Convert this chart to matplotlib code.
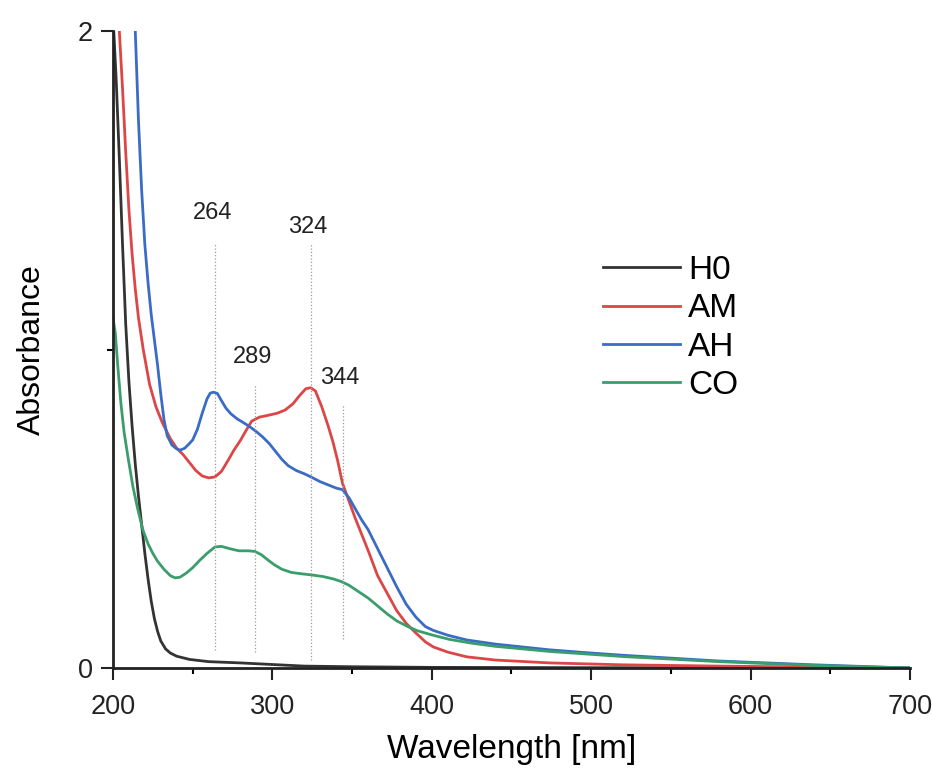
import matplotlib.pyplot as plt
from matplotlib.ticker import MultipleLocator

plt.rcParams['font.family'] = ['Liberation Sans', 'DejaVu Sans']

# UV-Vis spectra, wavelength (nm) vs absorbance
h0_wl = [200, 202, 204, 206, 208, 210, 212, 214, 216, 218, 220, 222, 224, 226, 228, 230, 233,
         236, 240, 248, 260, 280, 300, 320, 350, 400, 500, 600, 700]
h0_abs = [2.05, 1.85, 1.6, 1.33, 1.08, 0.90, 0.76, 0.64, 0.54, 0.45, 0.36, 0.28, 0.21, 0.155,
          0.115, 0.085, 0.06, 0.047, 0.037, 0.027, 0.02, 0.016, 0.011, 0.006, 0.004, 0.002,
          0.001, 0.0005, 0.0]

am_wl = [203.5, 204, 206, 208, 210, 212, 214, 216, 219, 223, 227, 231, 236, 240, 244, 248, 252,
         256, 260, 264, 268, 272, 276, 280, 284, 287, 292, 297, 303, 308, 313, 317, 321, 324,
         327, 331, 335, 338, 341, 344, 348, 352, 356, 360, 366, 372, 378, 384, 390, 396, 401,
         410, 422, 440, 474, 520, 580, 640, 700]
am_abs = [2.08, 2.0, 1.82, 1.62, 1.44, 1.30, 1.19, 1.10, 1.0, 0.89, 0.82, 0.77, 0.72, 0.69, 0.67,
          0.645, 0.62, 0.603, 0.597, 0.60, 0.617, 0.65, 0.685, 0.715, 0.75, 0.775, 0.788, 0.793,
          0.80, 0.81, 0.83, 0.855, 0.877, 0.88, 0.87, 0.82, 0.76, 0.71, 0.65, 0.58, 0.525, 0.47,
          0.42, 0.37, 0.29, 0.235, 0.18, 0.14, 0.11, 0.082, 0.066, 0.05, 0.035, 0.025, 0.016,
          0.01, 0.006, 0.003, 0.0]

ah_wl = [213.5, 214, 216, 218, 220, 222, 224, 226, 228, 230, 232, 234, 237, 240, 242, 245, 248,
         250, 253, 256, 259, 261, 263, 265.5, 268, 271, 274, 278, 282, 286, 290, 294, 298, 302,
         306, 310, 315, 320, 325, 330, 335, 340, 344, 348, 352, 356, 360, 366, 372, 378, 384,
         390, 396, 401, 410, 422, 440, 474, 500, 520, 580, 640, 700]
ah_abs = [2.07, 2.0, 1.72, 1.50, 1.33, 1.21, 1.11, 1.03, 0.95, 0.86, 0.78, 0.73, 0.70, 0.688,
          0.684, 0.69, 0.705, 0.716, 0.75, 0.80, 0.845, 0.863, 0.866, 0.862, 0.84, 0.815, 0.798,
          0.782, 0.77, 0.757, 0.742, 0.725, 0.705, 0.68, 0.655, 0.635, 0.62, 0.61, 0.598, 0.585,
          0.575, 0.565, 0.56, 0.535, 0.50, 0.465, 0.435, 0.375, 0.315, 0.255, 0.20, 0.16, 0.13,
          0.118, 0.103, 0.088, 0.075, 0.057, 0.047, 0.04, 0.022, 0.01, 0.0]

co_wl = [200, 201.5, 203, 205, 207, 209.5, 212.5, 215.5, 218.8, 222, 225, 228, 232, 236, 239,
         242, 246, 250, 254.6, 259, 264, 268, 273, 279, 285, 289, 293, 297, 301, 306, 312, 318,
         325, 332, 338, 343, 348, 354, 360, 366, 372, 378, 385, 391, 400, 411, 425, 440, 474,
         520, 580, 640, 700]
co_abs = [1.10, 1.05, 0.95, 0.83, 0.74, 0.66, 0.57, 0.50, 0.433, 0.39, 0.36, 0.335, 0.31, 0.29,
          0.283, 0.285, 0.298, 0.315, 0.339, 0.36, 0.38, 0.382, 0.375, 0.368, 0.368, 0.366, 0.356,
          0.34, 0.325, 0.31, 0.30, 0.296, 0.292, 0.287, 0.28, 0.272, 0.26, 0.24, 0.22, 0.195,
          0.17, 0.148, 0.13, 0.117, 0.104, 0.09, 0.078, 0.068, 0.052, 0.036, 0.02, 0.008, 0.0]

# marked band positions: label, label height, dotted line top / bottom
peaks = [264, 289, 324, 344]
peak_label_y = [1.43, 0.975, 1.385, 0.91]
peak_line_top = [1.335, 0.89, 1.335, 0.825]
peak_line_bottom = [0.055, 0.05, 0.025, 0.09]

fig = plt.figure(figsize=(9.32, 7.72), dpi=100)
ax = fig.add_axes([0.1212, 0.1347, 0.8552, 0.8251])

ax.plot(h0_wl, h0_abs, color='#333333', lw=2.0, label='H0')
ax.plot(am_wl, am_abs, color='#dc4646', lw=2.0, label='AM')
ax.plot(ah_wl, ah_abs, color='#3a6cc6', lw=2.0, label='AH')
ax.plot(co_wl, co_abs, color='#3a9e6c', lw=2.0, label='CO')

for wl, ty, top, bot in zip(peaks, peak_label_y, peak_line_top, peak_line_bottom):
    ax.vlines(wl, bot, top, colors='#9a9a9a', linestyles=':', lw=0.9)
    ax.text(wl - 1.5, ty, str(wl), ha='center', va='center', fontsize=17, color='#222222')

ax.set_xlim(200, 700)
ax.set_ylim(0, 2)
ax.xaxis.set_major_locator(MultipleLocator(100))
ax.xaxis.set_minor_locator(MultipleLocator(50))
ax.set_yticks([0, 2])
ax.set_yticks([1], minor=True)
ax.tick_params(which='major', direction='out', length=8.5, width=1.5, labelsize=19.5,
               colors='#222222')
ax.tick_params(which='minor', direction='out', length=4, width=1.5)
ax.tick_params(axis='x', pad=10)
ax.tick_params(axis='y', pad=6)

for side in ['top', 'right']:
    ax.spines[side].set_visible(False)
for side in ['left', 'bottom']:
    ax.spines[side].set_linewidth(2)
    ax.spines[side].set_color('#222222')

ax.set_xlabel('Wavelength [nm]', fontsize=24, labelpad=10)
ax.set_ylabel('Absorbance', fontsize=23, labelpad=22)

ax.legend(loc='center left', bbox_to_anchor=(0.577, 0.534), frameon=False, fontsize=24,
          handlelength=2.3, handletextpad=0.25, labelspacing=0.22, borderpad=0.4)

fig.savefig('out.png', dpi=100)
